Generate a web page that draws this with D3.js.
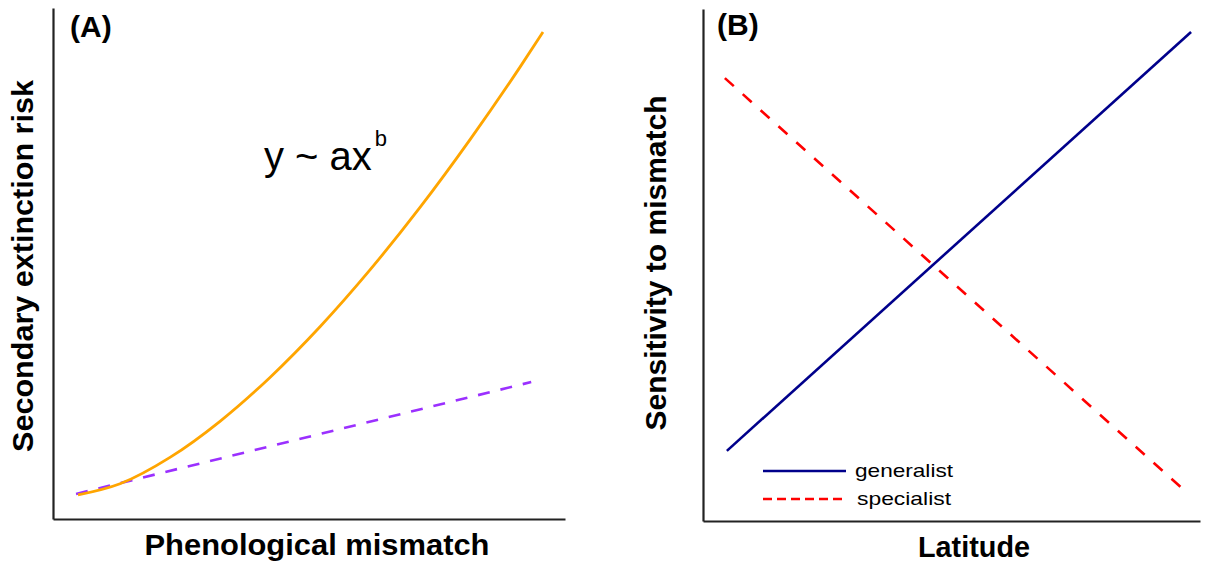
<!DOCTYPE html>
<html><head><meta charset="utf-8">
<script src="https://cdn.jsdelivr.net/npm/d3@7"></script>
<style>body{margin:0;background:#fff}svg{display:block;font-family:"Liberation Sans",Arial,sans-serif}</style>
</head><body>
<script>
// Panel A data (relative units 0-100)
const mismatchX = [4.88, 13.09, 22.85, 32.62, 42.38, 52.15, 61.91, 71.68, 81.45, 91.21, 95.70];
const powerRisk = [4.70, 6.89, 12.05, 19.12, 27.71, 37.63, 48.75, 60.98, 74.25, 88.43, 95.30];
const linearX = [4.5, 93.4];
const linearRisk = [4.9, 26.8];
// Panel B data
const latitudeX = [4.8, 98.2];
const generalist = [13.7, 95.5];
const latitudeX2 = [4.4, 97.4];
const specialist = [86.5, 5.5];
const legendLabels = ["generalist", "specialist"];

const W = 1211, H = 564;
const svg = d3.select("body").append("svg").attr("width", W).attr("height", H);

const axisColor = "#222";
function drawAxes(x, y) {
  const g = svg.append("g");
  g.append("g").attr("transform", `translate(0,${y.range()[0]})`)
    .call(d3.axisBottom(x).tickValues([]).tickSizeOuter(0))
    .call(s => s.select(".domain").attr("stroke", axisColor).attr("stroke-width", 2.2));
  g.append("g").attr("transform", `translate(${x.range()[0]},0)`)
    .call(d3.axisLeft(y).tickValues([]).tickSizeOuter(0))
    .call(s => s.select(".domain").attr("stroke", axisColor).attr("stroke-width", 2.2));
}
function label(text, opts) {
  const t = svg.append("text").attr("text-anchor", "middle")
    .attr("font-size", opts.size).attr("font-weight", "bold")
    .attr("textLength", opts.len).attr("lengthAdjust", "spacingAndGlyphs").text(text);
  if (opts.rotate) t.attr("transform", `translate(${opts.x},${opts.y}) rotate(-90)`);
  else t.attr("x", opts.x).attr("y", opts.y);
  return t;
}

// Panel A
const xA = d3.scaleLinear().domain([0, 100]).range([53, 565]);
const yA = d3.scaleLinear().domain([0, 100]).range([519, 8]);
drawAxes(xA, yA);
const lineA = d3.line().x(d => xA(d[0])).y(d => yA(d[1])).curve(d3.curveMonotoneX);
svg.append("path").datum(linearX.map((v, i) => [v, linearRisk[i]]))
  .attr("d", lineA).attr("fill", "none").attr("stroke", "#9B30FF")
  .attr("stroke-width", 2.6).attr("stroke-dasharray", "12,11");
svg.append("path").datum(mismatchX.map((v, i) => [v, powerRisk[i]]))
  .attr("d", lineA).attr("fill", "none").attr("stroke", "#FFA500")
  .attr("stroke-width", 2.8);

svg.append("text").attr("x", 70).attr("y", 37).attr("font-size", 30).attr("font-weight", "bold").text("(A)");
const f = svg.append("text").attr("x", 264).attr("y", 170).attr("font-size", 40);
f.append("tspan").text("y ~ ax");
f.append("tspan").attr("font-size", 22).attr("dx", 3).attr("dy", -24).text("b");
label("Phenological mismatch", {x: 317, y: 555, size: 29, len: 345});
label("Secondary extinction risk", {x: 33, y: 266, size: 29, len: 372, rotate: true});

// Panel B
const xB = d3.scaleLinear().domain([0, 100]).range([703, 1200]);
const yB = d3.scaleLinear().domain([0, 100]).range([521, 9]);
drawAxes(xB, yB);
const lineB = d3.line().x(d => xB(d[0])).y(d => yB(d[1]));
svg.append("path").datum(latitudeX.map((v, i) => [v, generalist[i]]))
  .attr("d", lineB).attr("fill", "none").attr("stroke", "#00008B").attr("stroke-width", 2.6);
svg.append("path").datum(latitudeX2.map((v, i) => [v, specialist[i]]))
  .attr("d", lineB).attr("fill", "none").attr("stroke", "#FF0000")
  .attr("stroke-width", 2.6).attr("stroke-dasharray", "12,12");

svg.append("text").attr("x", 717).attr("y", 35).attr("font-size", 30).attr("font-weight", "bold").text("(B)");
label("Latitude", {x: 974, y: 557, size: 29, len: 112});
label("Sensitivity to mismatch", {x: 666, y: 263, size: 29, len: 335, rotate: true});

// Legend
const legColors = ["#00008B", "#FF0000"];
const legDash = [null, "9,5"];
const legLens = [98, 94];
const leg = svg.append("g").attr("transform", "translate(763,471)");
legendLabels.forEach((lab, i) => {
  const g = leg.append("g").attr("transform", `translate(0,${i * 28})`);
  g.append("line").attr("x1", 0).attr("x2", 83).attr("y1", 0).attr("y2", 0)
    .attr("stroke", legColors[i]).attr("stroke-width", 2.4).attr("stroke-dasharray", legDash[i]);
  g.append("text").attr("x", 92 + i * 2).attr("y", 6).attr("font-size", 19)
    .attr("textLength", legLens[i]).attr("lengthAdjust", "spacingAndGlyphs").text(lab);
});
</script>
</body></html>
